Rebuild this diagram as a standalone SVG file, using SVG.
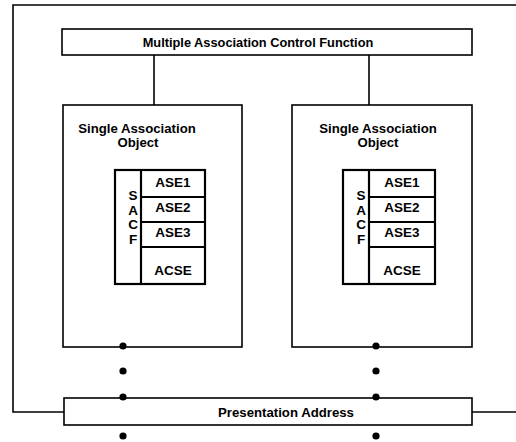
<svg xmlns="http://www.w3.org/2000/svg" width="516" height="442" viewBox="0 0 516 442">
<style>
.box{fill:#fff;stroke:#000;stroke-width:1.6}
.stack{fill:#fff;stroke:#000;stroke-width:2.2}
.ln{fill:none;stroke:#000;stroke-width:1.6}
.t{font-family:"Liberation Sans",Arial,sans-serif;font-weight:bold;fill:#000;text-anchor:middle}
.s{font-size:13.2px}
.a{font-size:13.5px}
.dot{fill:#000}
</style>
<rect width="516" height="442" fill="#fff"/>
<g id="connectors">
<polyline class="ln" points="516,5 13,5 13,412 64,412"/>
<line class="ln" x1="472" y1="412" x2="516" y2="412"/>
<line class="ln" x1="154" y1="55" x2="154" y2="105"/>
<line class="ln" x1="369" y1="55" x2="369" y2="105"/>
</g>
<g id="macf">
<rect class="box" x="62" y="29" width="410" height="26"/>
<text class="t" x="258" y="46.5" font-size="12.8">Multiple Association Control Function</text>
</g>
<g id="sao-left">
<rect class="box" x="63" y="105" width="179" height="242"/>
<text class="t s" x="137" y="133">Single Association</text>
<text class="t s" x="138" y="147">Object</text>
<rect class="stack" x="115" y="170" width="90" height="114"/>
<line class="stack" x1="141" y1="170" x2="141" y2="284"/>
<line class="stack" x1="141" y1="197" x2="205" y2="197"/>
<line class="stack" x1="141" y1="222" x2="205" y2="222"/>
<line class="stack" x1="141" y1="247" x2="205" y2="247"/>
<text class="t a" x="133" y="200">S</text>
<text class="t a" x="133" y="215">A</text>
<text class="t a" x="133" y="229">C</text>
<text class="t a" x="133" y="244">F</text>
<text class="t a" x="173" y="187">ASE1</text>
<text class="t a" x="173" y="212">ASE2</text>
<text class="t a" x="173" y="237">ASE3</text>
<text class="t a" x="173" y="275">ACSE</text>
</g>
<g id="sao-right">
<rect class="box" x="292" y="105" width="180" height="242"/>
<text class="t s" x="378" y="133">Single Association</text>
<text class="t s" x="378" y="147">Object</text>
<rect class="stack" x="343" y="170" width="92" height="114"/>
<line class="stack" x1="369" y1="170" x2="369" y2="284"/>
<line class="stack" x1="369" y1="197" x2="435" y2="197"/>
<line class="stack" x1="369" y1="222" x2="435" y2="222"/>
<line class="stack" x1="369" y1="247" x2="435" y2="247"/>
<text class="t a" x="361" y="200">S</text>
<text class="t a" x="361" y="215">A</text>
<text class="t a" x="361" y="229">C</text>
<text class="t a" x="361" y="244">F</text>
<text class="t a" x="402" y="187">ASE1</text>
<text class="t a" x="402" y="212">ASE2</text>
<text class="t a" x="402" y="237">ASE3</text>
<text class="t a" x="402" y="275">ACSE</text>
</g>
<g id="pa">
<rect class="box" x="64" y="398" width="408" height="27"/>
<text class="t" x="286" y="416.5" font-size="13.2">Presentation Address</text>
</g>
<g id="dots">
<circle class="dot" cx="123" cy="346" r="3.6"/>
<circle class="dot" cx="123" cy="371" r="3.6"/>
<circle class="dot" cx="123" cy="397" r="3.6"/>
<circle class="dot" cx="123" cy="436" r="3.6"/>
<circle class="dot" cx="376" cy="346" r="3.6"/>
<circle class="dot" cx="376" cy="371" r="3.6"/>
<circle class="dot" cx="376" cy="397" r="3.6"/>
<circle class="dot" cx="376" cy="436" r="3.6"/>
</g>
</svg>
